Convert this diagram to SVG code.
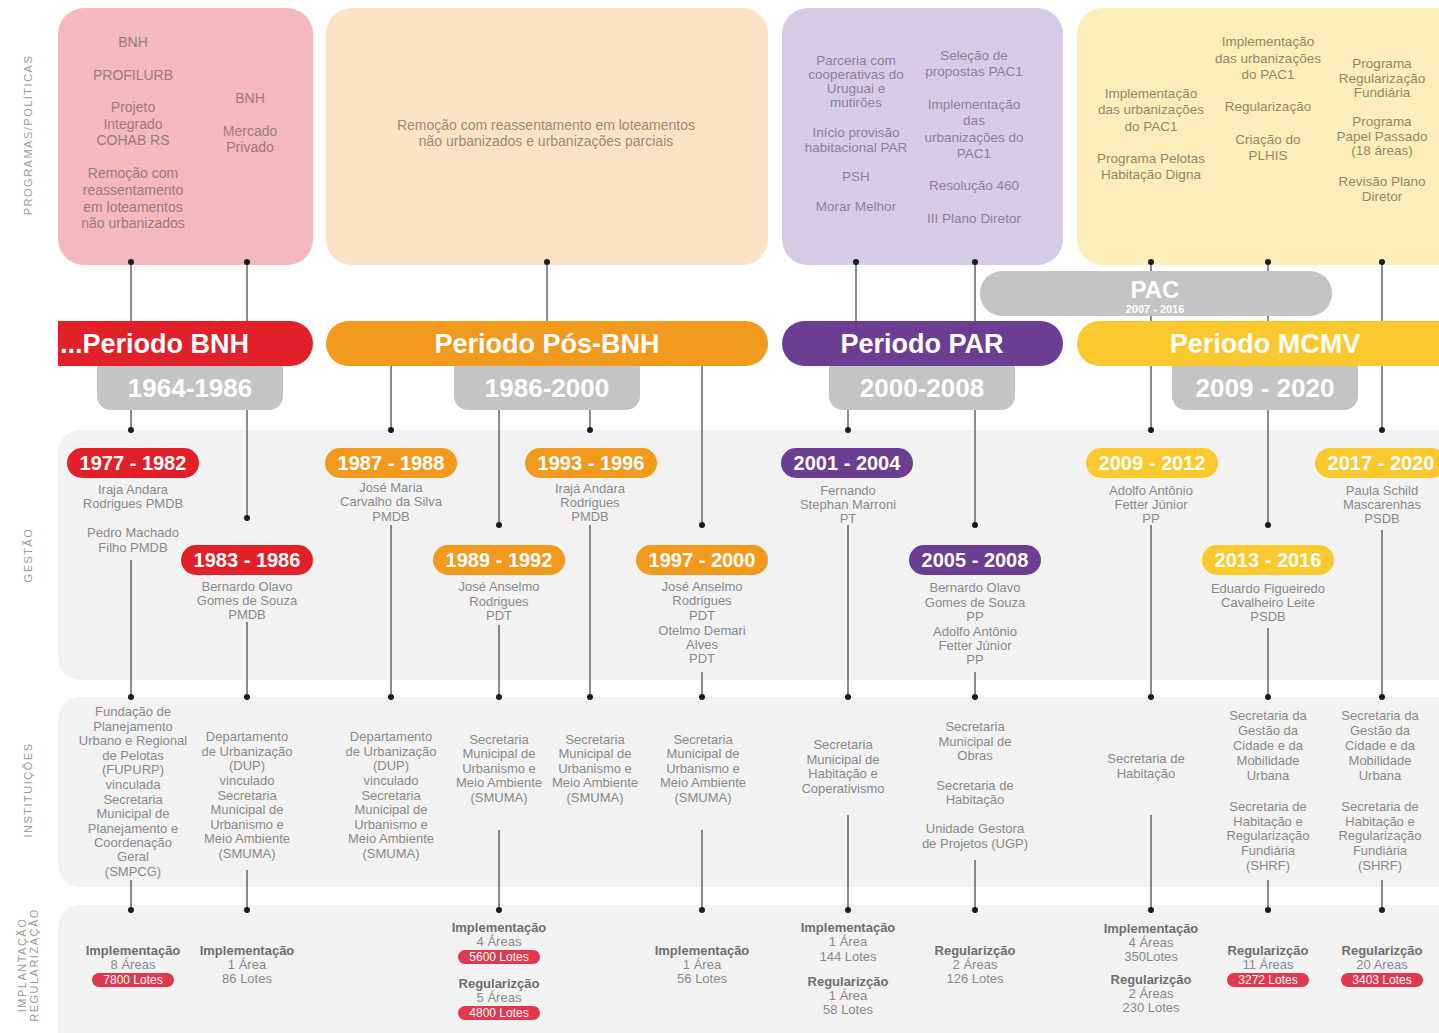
<svg xmlns="http://www.w3.org/2000/svg" width="1439" height="1033" viewBox="0 0 1439 1033">
<style>
text{font-family:"Liberation Sans",Arial,sans-serif;text-anchor:middle}
.side{font-size:11px;fill:#9a9a9a;letter-spacing:1.5px}
.tb{font-size:14px;fill:#9a7c7e}
.tp{font-size:14px;fill:#9e8a74}
.tr{font-size:13.5px;fill:#8a819c}
.tm{font-size:13.5px;fill:#958965}
.g{font-size:13px;fill:#8a8a8a}
.h{font-size:13px;fill:#6e6e6e;font-weight:bold}
.per{font-size:27px;font-weight:bold;fill:#fff}
.yr{font-size:26px;font-weight:bold;fill:#fff}
.pl{font-size:20px;font-weight:bold;fill:#fff}
.lt{font-size:12px;fill:#fff}
.ln{stroke:#4d4d4d;stroke-width:1.3;fill:none}
.dot{fill:#1c1c1c}
.band{fill:#f2f2f2}
.tab{fill:#c4c4c4}
.red{fill:#e2202a}.ora{fill:#f29a1e}.pur{fill:#6b3e94}.yel{fill:#fbc82d}
.lot{fill:#e0394f}
</style>
<rect width="1439" height="1033" fill="#fff"/>
<g id="side-labels">
<text class="side" transform="translate(32,135) rotate(-90)">PROGRAMAS/POLÍTICAS</text>
<text class="side" transform="translate(32,555) rotate(-90)">GESTÃO</text>
<text class="side" transform="translate(32,790) rotate(-90)">INSTITUIÇÕES</text>
<text class="side" transform="translate(26,965) rotate(-90)">IMPLANTAÇÃO</text>
<text class="side" transform="translate(38,965) rotate(-90)">REGULARIZAÇÃO</text>
</g>
<g id="bands">
<rect class="band" x="58" y="430" width="1420" height="250" rx="22"/>
<rect class="band" x="58" y="697" width="1420" height="190" rx="22"/>
<rect class="band" x="58" y="905" width="1420" height="160" rx="22"/>
</g>
<g id="prog-bnh">
<rect x="58" y="8" width="255" height="257" rx="26" fill="#f4b8bd"/>
<text class="tb"><tspan x="133" y="47">BNH</tspan><tspan x="133" y="80">PROFILURB</tspan><tspan x="133" y="112">Projeto</tspan><tspan x="133" y="129">Integrado</tspan><tspan x="133" y="145">COHAB RS</tspan><tspan x="133" y="178">Remoção com</tspan><tspan x="133" y="195">reassentamento</tspan><tspan x="133" y="212">em loteamentos</tspan><tspan x="133" y="228">não urbanizados</tspan></text>
<text class="tb"><tspan x="250" y="103">BNH</tspan><tspan x="250" y="136">Mercado</tspan><tspan x="250" y="152">Privado</tspan></text>
</g>
<g id="prog-posbnh">
<rect x="326" y="8" width="442" height="257" rx="26" fill="#fce3c6"/>
<text class="tp"><tspan x="546" y="130">Remoção com reassentamento em loteamentos</tspan><tspan x="546" y="146">não urbanizados e urbanizações parciais</tspan></text>
</g>
<g id="prog-par">
<rect x="782" y="8" width="281" height="257" rx="26" fill="#d6cbe6"/>
<text class="tr"><tspan x="856" y="65">Parceria com</tspan><tspan x="856" y="79">cooperativas do</tspan><tspan x="856" y="93">Uruguai e</tspan><tspan x="856" y="107">mutirões</tspan><tspan x="856" y="137">Início provisão</tspan><tspan x="856" y="152">habitacional PAR</tspan><tspan x="856" y="181">PSH</tspan><tspan x="856" y="211">Morar Melhor</tspan></text>
<text class="tr"><tspan x="974" y="60">Seleção de</tspan><tspan x="974" y="76">propostas PAC1</tspan><tspan x="974" y="109">Implementação</tspan><tspan x="974" y="125">das</tspan><tspan x="974" y="142">urbanizações do</tspan><tspan x="974" y="158">PAC1</tspan><tspan x="974" y="190">Resolução 460</tspan><tspan x="974" y="223">III Plano Diretor</tspan></text>
</g>
<g id="prog-mcmv">
<rect x="1077" y="8" width="400" height="257" rx="26" fill="#fdedb9"/>
<text class="tm"><tspan x="1151" y="98">Implementação</tspan><tspan x="1151" y="114">das urbanizações</tspan><tspan x="1151" y="131">do PAC1</tspan><tspan x="1151" y="163">Programa Pelotas</tspan><tspan x="1151" y="179">Habitação Digna</tspan></text>
<text class="tm"><tspan x="1268" y="46">Implementação</tspan><tspan x="1268" y="63">das urbanizações</tspan><tspan x="1268" y="79">do PAC1</tspan><tspan x="1268" y="111">Regularização</tspan><tspan x="1268" y="144">Criação do</tspan><tspan x="1268" y="160">PLHIS</tspan></text>
<text class="tm"><tspan x="1382" y="68">Programa</tspan><tspan x="1382" y="83">Regularização</tspan><tspan x="1382" y="97">Fundiária</tspan><tspan x="1382" y="126">Programa</tspan><tspan x="1382" y="141">Papel Passado</tspan><tspan x="1382" y="155">(18 áreas)</tspan><tspan x="1382" y="186">Revisão Plano</tspan><tspan x="1382" y="201">Diretor</tspan></text>
</g>
<g id="connectors">
<path class="ln" d="M131,262V430M131,560V697M131,880V910"/>
<path class="ln" d="M247,262V518M247,622V697M247,870V910"/>
<path class="ln" d="M391,366V430M391,525V697"/>
<path class="ln" d="M499,410V525M499,625V697M499,830V910"/>
<path class="ln" d="M547,262V321"/>
<path class="ln" d="M590,410V430M590,525V697"/>
<path class="ln" d="M702,366V525M702,672V697M702,830V910"/>
<path class="ln" d="M848,410V430M848,525V697M848,815V910"/>
<path class="ln" d="M856,262V321"/>
<path class="ln" d="M975,262V525M975,672V697M975,860V910"/>
<path class="ln" d="M1151,262V430M1151,525V697M1151,815V910"/>
<path class="ln" d="M1268,262V525M1268,628V697M1268,880V910"/>
<path class="ln" d="M1382,262V430M1382,530V697M1382,880V910"/>
</g>
<g id="pac">
<rect class="tab" x="980" y="271" width="352" height="45" rx="22"/>
<text x="1155" y="298" style="font-size:24px;font-weight:bold;fill:#fff">PAC</text>
<text x="1155" y="313" style="font-size:11px;font-weight:bold;fill:#fff">2007 - 2016</text>
</g>
<g id="period-bnh">
<rect class="tab" x="97" y="355" width="186" height="55" rx="14"/>
<path class="red" d="M58,321H290.5A22.5,22.5 0 0 1 290.5,366H58Z"/>
<text class="per" x="60" y="353" style="text-anchor:start">...Periodo BNH</text>
<text class="yr" x="190" y="397">1964-1986</text>
</g>
<g id="period-posbnh">
<rect class="tab" x="454" y="355" width="186" height="55" rx="14"/>
<rect class="ora" x="326" y="321" width="442" height="45" rx="22.5"/>
<text class="per" x="547" y="353">Periodo Pós-BNH</text>
<text class="yr" x="547" y="397">1986-2000</text>
</g>
<g id="period-par">
<rect class="tab" x="829" y="355" width="186" height="55" rx="14"/>
<rect class="pur" x="782" y="321" width="281" height="45" rx="22.5"/>
<text class="per" x="922" y="353">Periodo PAR</text>
<text class="yr" x="922" y="397">2000-2008</text>
</g>
<g id="period-mcmv">
<rect class="tab" x="1172" y="355" width="186" height="55" rx="14"/>
<rect class="yel" x="1077" y="321" width="400" height="45" rx="22.5"/>
<text class="per" x="1265" y="353">Periodo MCMV</text>
<text class="yr" x="1265" y="397">2009 - 2020</text>
</g>
<g id="gestao-1977">
<rect class="red" x="67" y="448" width="132" height="30" rx="15"/>
<text class="pl" x="133" y="470">1977 - 1982</text>
<text class="g"><tspan x="133" y="494">Iraja Andara</tspan><tspan x="133" y="508">Rodrigues PMDB</tspan><tspan x="133" y="537">Pedro Machado</tspan><tspan x="133" y="552">Filho  PMDB</tspan></text>
</g>
<g id="gestao-1983">
<rect class="red" x="181" y="545" width="132" height="30" rx="15"/>
<text class="pl" x="247" y="567">1983 - 1986</text>
<text class="g"><tspan x="247" y="591">Bernardo Olavo</tspan><tspan x="247" y="605">Gomes de Souza</tspan><tspan x="247" y="619">PMDB</tspan></text>
</g>
<g id="gestao-1987">
<rect class="ora" x="325" y="448" width="132" height="30" rx="15"/>
<text class="pl" x="391" y="470">1987 - 1988</text>
<text class="g"><tspan x="391" y="492">José Maria</tspan><tspan x="391" y="506">Carvalho da Silva</tspan><tspan x="391" y="521">PMDB</tspan></text>
</g>
<g id="gestao-1989">
<rect class="ora" x="433" y="545" width="132" height="30" rx="15"/>
<text class="pl" x="499" y="567">1989 - 1992</text>
<text class="g"><tspan x="499" y="591">José Anselmo</tspan><tspan x="499" y="606">Rodrigues</tspan><tspan x="499" y="620">PDT</tspan></text>
</g>
<g id="gestao-1993">
<rect class="ora" x="525" y="448" width="132" height="30" rx="15"/>
<text class="pl" x="591" y="470">1993 - 1996</text>
<text class="g"><tspan x="590" y="493">Irajá Andara</tspan><tspan x="590" y="507">Rodrigues</tspan><tspan x="590" y="521">PMDB</tspan></text>
</g>
<g id="gestao-1997">
<rect class="ora" x="636" y="545" width="132" height="30" rx="15"/>
<text class="pl" x="702" y="567">1997 - 2000</text>
<text class="g"><tspan x="702" y="591">José Anselmo</tspan><tspan x="702" y="605">Rodrigues</tspan><tspan x="702" y="620">PDT</tspan><tspan x="702" y="635">Otelmo Demari</tspan><tspan x="702" y="649">Alves</tspan><tspan x="702" y="663">PDT</tspan></text>
</g>
<g id="gestao-2001">
<rect class="pur" x="781" y="448" width="132" height="30" rx="15"/>
<text class="pl" x="847" y="470">2001 - 2004</text>
<text class="g"><tspan x="848" y="495">Fernando</tspan><tspan x="848" y="509">Stephan Marroni</tspan><tspan x="848" y="523">PT</tspan></text>
</g>
<g id="gestao-2005">
<rect class="pur" x="909" y="545" width="132" height="30" rx="15"/>
<text class="pl" x="975" y="567">2005 - 2008</text>
<text class="g"><tspan x="975" y="592">Bernardo Olavo</tspan><tspan x="975" y="607">Gomes de Souza</tspan><tspan x="975" y="621">PP</tspan><tspan x="975" y="636">Adolfo Antônio</tspan><tspan x="975" y="650">Fetter Júnior</tspan><tspan x="975" y="664">PP</tspan></text>
</g>
<g id="gestao-2009">
<rect class="yel" x="1086" y="448" width="132" height="30" rx="15"/>
<text class="pl" x="1152" y="470">2009 - 2012</text>
<text class="g"><tspan x="1151" y="495">Adolfo Antônio</tspan><tspan x="1151" y="509">Fetter Júnior</tspan><tspan x="1151" y="523">PP</tspan></text>
</g>
<g id="gestao-2013">
<rect class="yel" x="1202" y="545" width="132" height="30" rx="15"/>
<text class="pl" x="1268" y="567">2013 - 2016</text>
<text class="g"><tspan x="1268" y="593">Eduardo Figueiredo</tspan><tspan x="1268" y="607">Cavalheiro Leite</tspan><tspan x="1268" y="621">PSDB</tspan></text>
</g>
<g id="gestao-2017">
<rect class="yel" x="1315" y="448" width="132" height="30" rx="15"/>
<text class="pl" x="1381" y="470">2017 - 2020</text>
<text class="g"><tspan x="1382" y="495">Paula Schild</tspan><tspan x="1382" y="509">Mascarenhas</tspan><tspan x="1382" y="523">PSDB</tspan></text>
</g>
<g id="inst-fupurp">
<text class="g"><tspan x="133" y="716">Fundação de</tspan><tspan x="133" y="731">Planejamento</tspan><tspan x="133" y="745">Urbano e Regional</tspan><tspan x="133" y="760">de Pelotas</tspan><tspan x="133" y="774">(FUPURP)</tspan><tspan x="133" y="789">vinculada</tspan><tspan x="133" y="804">Secretaria</tspan><tspan x="133" y="818">Municipal de</tspan><tspan x="133" y="833">Planejamento e</tspan><tspan x="133" y="847">Coordenação</tspan><tspan x="133" y="861">Geral</tspan><tspan x="133" y="876">(SMPCG)</tspan></text>
</g>
<g id="inst-dup-1">
<text class="g"><tspan x="247" y="741">Departamento</tspan><tspan x="247" y="756">de Urbanização</tspan><tspan x="247" y="770">(DUP)</tspan><tspan x="247" y="785">vinculado</tspan><tspan x="247" y="800">Secretaria</tspan><tspan x="247" y="814">Municipal de</tspan><tspan x="247" y="829">Urbanismo e</tspan><tspan x="247" y="843">Meio Ambiente</tspan><tspan x="247" y="858">(SMUMA)</tspan></text>
</g>
<g id="inst-dup-2">
<text class="g"><tspan x="391" y="741">Departamento</tspan><tspan x="391" y="756">de Urbanização</tspan><tspan x="391" y="770">(DUP)</tspan><tspan x="391" y="785">vinculado</tspan><tspan x="391" y="800">Secretaria</tspan><tspan x="391" y="814">Municipal de</tspan><tspan x="391" y="829">Urbanismo e</tspan><tspan x="391" y="843">Meio Ambiente</tspan><tspan x="391" y="858">(SMUMA)</tspan></text>
</g>
<g id="inst-smuma-1">
<text class="g"><tspan x="499" y="744">Secretaria</tspan><tspan x="499" y="758">Municipal de</tspan><tspan x="499" y="773">Urbanismo e</tspan><tspan x="499" y="787">Meio Ambiente</tspan><tspan x="499" y="802">(SMUMA)</tspan></text>
</g>
<g id="inst-smuma-2">
<text class="g"><tspan x="595" y="744">Secretaria</tspan><tspan x="595" y="758">Municipal de</tspan><tspan x="595" y="773">Urbanismo e</tspan><tspan x="595" y="787">Meio Ambiente</tspan><tspan x="595" y="802">(SMUMA)</tspan></text>
</g>
<g id="inst-smuma-3">
<text class="g"><tspan x="703" y="744">Secretaria</tspan><tspan x="703" y="758">Municipal de</tspan><tspan x="703" y="773">Urbanismo e</tspan><tspan x="703" y="787">Meio Ambiente</tspan><tspan x="703" y="802">(SMUMA)</tspan></text>
</g>
<g id="inst-smhc">
<text class="g"><tspan x="843" y="749">Secretaria</tspan><tspan x="843" y="764">Municipal de</tspan><tspan x="843" y="778">Habitação e</tspan><tspan x="843" y="793">Coperativismo</tspan></text>
</g>
<g id="inst-obras">
<text class="g"><tspan x="975" y="731">Secretaria</tspan><tspan x="975" y="746">Municipal de</tspan><tspan x="975" y="760">Obras</tspan><tspan x="975" y="790">Secretaria de</tspan><tspan x="975" y="804">Habitação</tspan><tspan x="975" y="833">Unidade Gestora</tspan><tspan x="975" y="848">de Projetos (UGP)</tspan></text>
</g>
<g id="inst-hab">
<text class="g"><tspan x="1146" y="763">Secretaria de</tspan><tspan x="1146" y="778">Habitação</tspan></text>
</g>
<g id="inst-gestao-1">
<text class="g"><tspan x="1268" y="720">Secretaria da</tspan><tspan x="1268" y="735">Gestão da</tspan><tspan x="1268" y="750">Cidade e da</tspan><tspan x="1268" y="765">Mobilidade</tspan><tspan x="1268" y="780">Urbana</tspan><tspan x="1268" y="811">Secretaria de</tspan><tspan x="1268" y="826">Habitação e</tspan><tspan x="1268" y="840">Regularização</tspan><tspan x="1268" y="855">Fundiária</tspan><tspan x="1268" y="870">(SHRF)</tspan></text>
</g>
<g id="inst-gestao-2">
<text class="g"><tspan x="1380" y="720">Secretaria da</tspan><tspan x="1380" y="735">Gestão da</tspan><tspan x="1380" y="750">Cidade e da</tspan><tspan x="1380" y="765">Mobilidade</tspan><tspan x="1380" y="780">Urbana</tspan><tspan x="1380" y="811">Secretaria de</tspan><tspan x="1380" y="826">Habitação e</tspan><tspan x="1380" y="840">Regularização</tspan><tspan x="1380" y="855">Fundiária</tspan><tspan x="1380" y="870">(SHRF)</tspan></text>
</g>
<g id="impl-1">
<text class="h" x="133" y="955">Implementação</text>
<text class="g" x="133" y="969">8 Áreas</text>
<rect class="lot" x="92" y="973" width="82" height="14" rx="7"/>
<text class="lt" x="133" y="984">7800 Lotes</text>
</g>
<g id="impl-2">
<text class="h" x="247" y="955">Implementação</text>
<text class="g"><tspan x="247" y="969">1 Área</tspan><tspan x="247" y="983">86 Lotes</tspan></text>
</g>
<g id="impl-3">
<text class="h" x="499" y="932">Implementação</text>
<text class="g" x="499" y="946">4 Áreas</text>
<rect class="lot" x="458" y="950" width="82" height="14" rx="7"/>
<text class="lt" x="499" y="961">5600 Lotes</text>
<text class="h" x="499" y="988">Regularizção</text>
<text class="g" x="499" y="1002">5 Áreas</text>
<rect class="lot" x="458" y="1006" width="82" height="14" rx="7"/>
<text class="lt" x="499" y="1017">4800 Lotes</text>
</g>
<g id="impl-4">
<text class="h" x="702" y="955">Implementação</text>
<text class="g"><tspan x="702" y="969">1 Área</tspan><tspan x="702" y="983">56 Lotes</tspan></text>
</g>
<g id="impl-5">
<text class="h" x="848" y="932">Implementação</text>
<text class="g"><tspan x="848" y="946">1 Área</tspan><tspan x="848" y="961">144 Lotes</tspan></text>
<text class="h" x="848" y="986">Regularizção</text>
<text class="g"><tspan x="848" y="1000">1 Área</tspan><tspan x="848" y="1014">58 Lotes</tspan></text>
</g>
<g id="impl-6">
<text class="h" x="975" y="955">Regularizção</text>
<text class="g"><tspan x="975" y="969">2 Áreas</tspan><tspan x="975" y="983">126 Lotes</tspan></text>
</g>
<g id="impl-7">
<text class="h" x="1151" y="933">Implementação</text>
<text class="g"><tspan x="1151" y="947">4 Áreas</tspan><tspan x="1151" y="961">350Lotes</tspan></text>
<text class="h" x="1151" y="984">Regularizção</text>
<text class="g"><tspan x="1151" y="998">2 Áreas</tspan><tspan x="1151" y="1012">230 Lotes</tspan></text>
</g>
<g id="impl-8">
<text class="h" x="1268" y="955">Regularizção</text>
<text class="g" x="1268" y="969">11 Áreas</text>
<rect class="lot" x="1227" y="973" width="82" height="14" rx="7"/>
<text class="lt" x="1268" y="984">3272 Lotes</text>
</g>
<g id="impl-9">
<text class="h" x="1382" y="955">Regularizção</text>
<text class="g" x="1382" y="969">20 Areas</text>
<rect class="lot" x="1341" y="973" width="82" height="14" rx="7"/>
<text class="lt" x="1382" y="984">3403 Lotes</text>
</g>
<g id="dots">
<circle class="dot" cx="131" cy="262" r="3"/><circle class="dot" cx="247" cy="262" r="3"/><circle class="dot" cx="547" cy="262" r="3"/><circle class="dot" cx="856" cy="262" r="3"/><circle class="dot" cx="975" cy="262" r="3"/><circle class="dot" cx="1151" cy="262" r="3"/><circle class="dot" cx="1268" cy="262" r="3"/><circle class="dot" cx="1382" cy="262" r="3"/>
<circle class="dot" cx="131" cy="430" r="3"/><circle class="dot" cx="247" cy="518" r="3"/><circle class="dot" cx="391" cy="430" r="3"/><circle class="dot" cx="499" cy="525" r="3"/><circle class="dot" cx="590" cy="430" r="3"/><circle class="dot" cx="702" cy="525" r="3"/><circle class="dot" cx="848" cy="430" r="3"/><circle class="dot" cx="975" cy="525" r="3"/><circle class="dot" cx="1151" cy="430" r="3"/><circle class="dot" cx="1268" cy="525" r="3"/><circle class="dot" cx="1382" cy="430" r="3"/>
<circle class="dot" cx="131" cy="697" r="3"/><circle class="dot" cx="247" cy="697" r="3"/><circle class="dot" cx="391" cy="697" r="3"/><circle class="dot" cx="499" cy="697" r="3"/><circle class="dot" cx="590" cy="697" r="3"/><circle class="dot" cx="702" cy="697" r="3"/><circle class="dot" cx="848" cy="697" r="3"/><circle class="dot" cx="975" cy="697" r="3"/><circle class="dot" cx="1151" cy="697" r="3"/><circle class="dot" cx="1268" cy="697" r="3"/><circle class="dot" cx="1382" cy="697" r="3"/>
<circle class="dot" cx="131" cy="910" r="3"/><circle class="dot" cx="247" cy="910" r="3"/><circle class="dot" cx="499" cy="910" r="3"/><circle class="dot" cx="702" cy="910" r="3"/><circle class="dot" cx="848" cy="910" r="3"/><circle class="dot" cx="975" cy="910" r="3"/><circle class="dot" cx="1151" cy="910" r="3"/><circle class="dot" cx="1268" cy="910" r="3"/><circle class="dot" cx="1382" cy="910" r="3"/>
</g>
</svg>
